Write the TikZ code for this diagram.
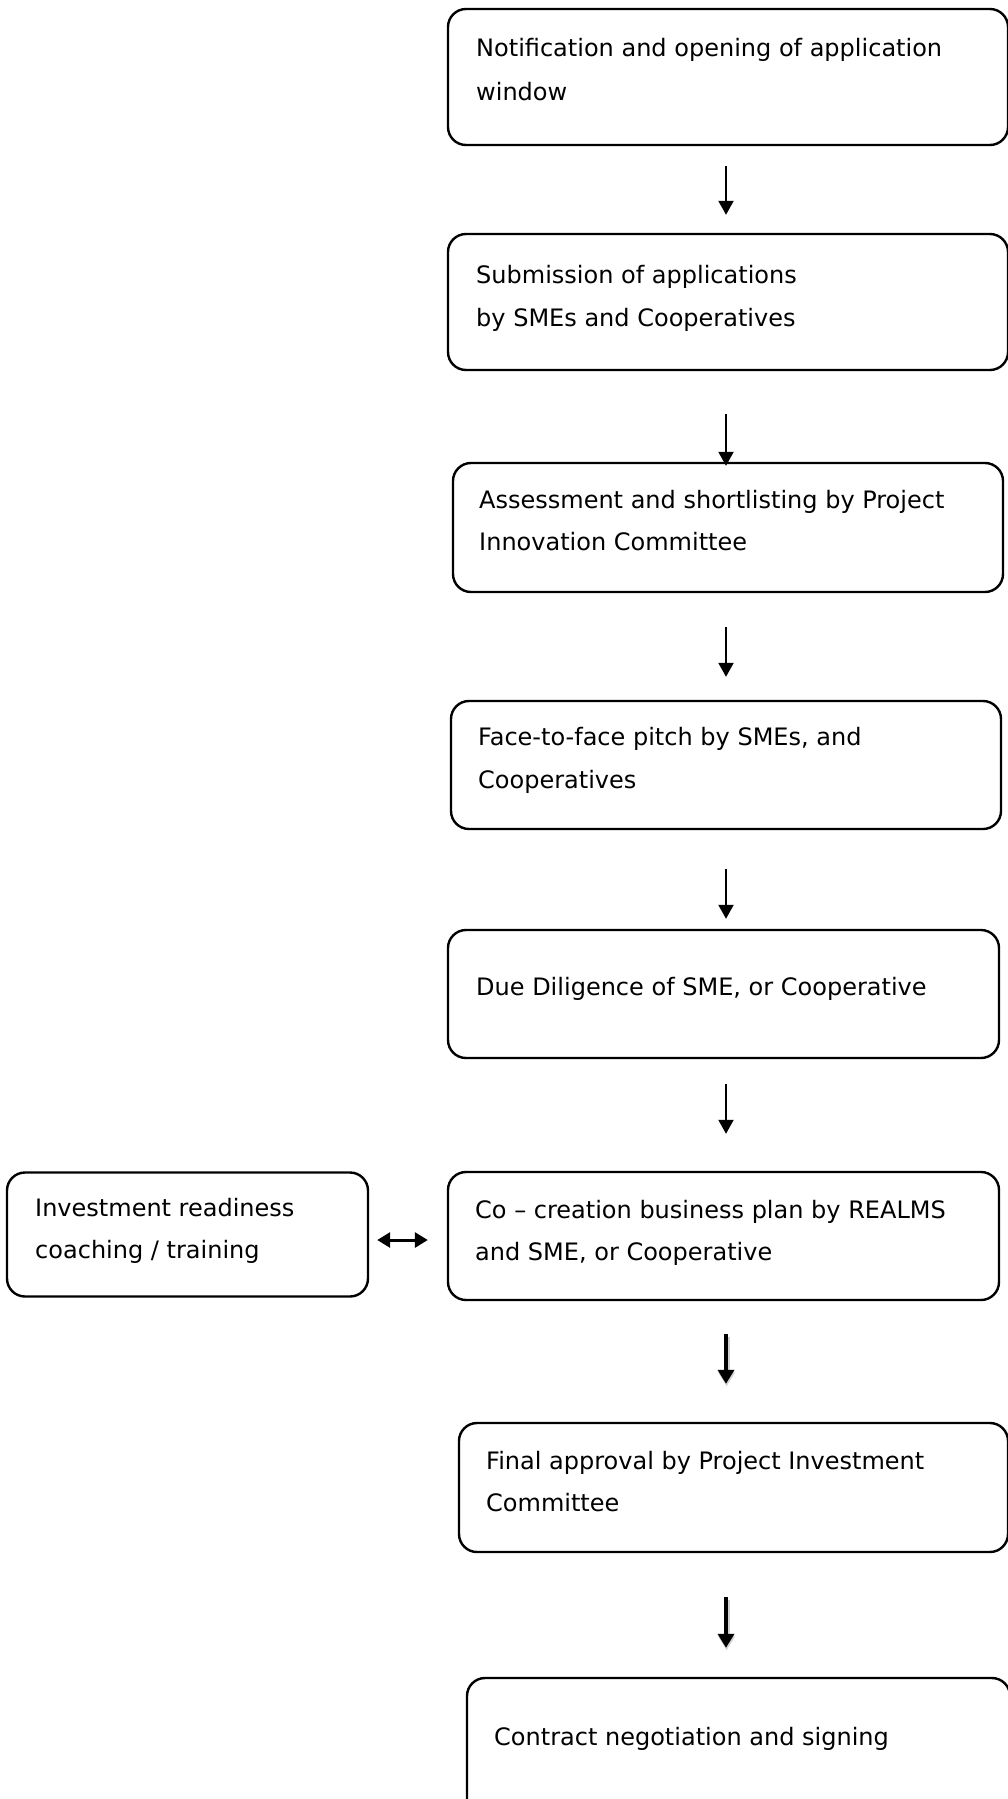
\documentclass[tikz,border=0pt]{standalone}
\usepackage{fontspec}
\setmainfont{DejaVu Sans}
\usetikzlibrary{arrows.meta}
\begin{document}
\begin{tikzpicture}[x=1pt,y=-1pt,
  box/.style={draw=black, line width=2.4pt, rounded corners=18pt, inner sep=0pt},
  txt/.style={anchor=base west, inner sep=0pt, font=\fontsize{24}{43}\selectfont},
  arr/.style={line width=2pt, -{Triangle[width=15pt,length=14pt]}},
  thickarr/.style={line width=4.5pt, -{Triangle[width=16pt,length=14pt]},
    preaction={draw=black!18, line width=6pt, transform canvas={shift={(0.6pt,-2.5pt)}}}},
  darr/.style={line width=3pt, {Triangle[width=15pt,length=13pt]}-{Triangle[width=15pt,length=13pt]}}]
\useasboundingbox (0,0) rectangle (1008,1799);
\clip (0,0) rectangle (1008,1799);
\fill[white] (0,0) rectangle (1008,1799);
\coordinate (ax) at (726,0);
\coordinate (dy) at (0,1240);

% boxes
\node[box, minimum width=560pt, minimum height=136pt] (b1) at (728,77) {};
\node[box, minimum width=560pt, minimum height=136pt] (b2) at (728,302) {};
\node[box, minimum width=550pt, minimum height=129pt] (b3) at (728,527.5) {};
\node[box, minimum width=550pt, minimum height=128pt] (b4) at (726,765) {};
\node[box, minimum width=551pt, minimum height=128pt] (b5) at (723.5,994) {};
\node[box, minimum width=551pt, minimum height=128pt] (b6) at (723.5,1236) {};
\node[box, minimum width=361pt, minimum height=124pt] (bl) at (187.5,1234.5) {};
\node[box, minimum width=549pt, minimum height=129pt] (b7) at (733.5,1487.5) {};
\node[box, minimum width=543pt, minimum height=152pt] (b8) at (738.5,1754) {};

% texts
\node[txt] (t1a) at (476,56) {Notification and opening of application};
\node[txt] (t1b) at (476,100) {window};
\node[txt] (t2a) at (476,283) {Submission of applications};
\node[txt] (t2b) at (476,326) {by SMEs and Cooperatives};
\node[txt] (t3a) at (479,508) {Assessment and shortlisting by Project};
\node[txt] (t3b) at (479,550) {Innovation Committee};
\node[txt] (t4a) at (478,745) {Face-to-face pitch by SMEs, and};
\node[txt] (t4b) at (478,788) {Cooperatives};
\node[txt] (t5a) at (476,995) {Due Diligence of SME, or Cooperative};
\node[txt] (t6a) at (475,1218) {Co – creation business plan by REALMS};
\node[txt] (t6b) at (475,1260) {and SME, or Cooperative};
\node[txt] (tla) at (35,1216) {Investment readiness};
\node[txt] (tlb) at (35,1258) {coaching / training};
\node[txt] (t7a) at (486,1469) {Final approval by Project Investment};
\node[txt] (t7b) at (486,1511) {Committee};
\node[txt] (t8a) at (494,1745) {Contract negotiation and signing};

% connectors
\draw[arr, shorten <=20pt, shorten >=18pt] (b1.south -| ax) -- (b2.north -| ax);
\draw[arr, shorten <=43pt, shorten >=-4pt] (b2.south -| ax) -- (b3.north -| ax);
\draw[arr, shorten <=34pt, shorten >=23pt] (b3.south -| ax) -- (b4.north -| ax);
\draw[arr, shorten <=39pt, shorten >=10pt] (b4.south -| ax) -- (b5.north -| ax);
\draw[arr, shorten <=25pt, shorten >=37pt] (b5.south -| ax) -- (b6.north -| ax);
\draw[thickarr, shorten <=33pt, shorten >=38pt] (b6.south -| ax) -- (b7.north -| ax);
\draw[thickarr, shorten <=44pt, shorten >=29pt] (b7.south -| ax) -- (b8.north -| ax);
\draw[darr, shorten <=8pt, shorten >=19pt] (bl.east |- dy) -- (b6.west |- dy);
\end{tikzpicture}
\end{document}
